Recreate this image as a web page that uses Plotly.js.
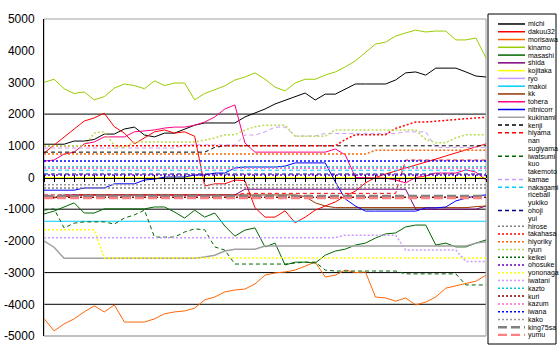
<!DOCTYPE html>
<html><head><meta charset="utf-8">
<script src="https://cdn.plot.ly/plotly-3.0.1.min.js"></script>
<style>html,body{margin:0;padding:0;background:#fff}</style>
</head><body><div id="chart" style="width:560px;height:350px"></div>
<script>
const rounds = [1,2,3,4,5,6,7,8,9,10,11,12,13,14,15,16,17,18,19,20,21,22,23,24,25,26,27,28,29,30,31,32,33,34,35,36,37,38,39,40,41,42,43,44,45];

const michi = [1050,1050,1050,1150,1150,1200,1370,1370,1530,1590,1340,1280,1400,1400,1530,1650,1720,1720,1720,1720,1910,2030,2160,2320,2440,2540,2665,2445,2630,2630,2790,2950,2950,2950,2950,3075,3300,3330,3230,3450,3450,3450,3330,3200,3170];
const dakuu32 = [770,1020,1280,1530,1780,1880,2030,1600,1400,1060,1250,1440,1500,1400,1440,1300,-270,-200,-200,-80,-100,-950,-1250,-1250,-1050,-1430,-1250,-1030,-900,-770,-580,-430,-170,0,110,200,300,390,490,580,680,770,870,960,1060];
const morisawa = [-4450,-4840,-4620,-4460,-4240,-4050,-4240,-4020,-4560,-4560,-4560,-4460,-4300,-4240,-4210,-4120,-3860,-3770,-3610,-3550,-3520,-3360,-3080,-3010,-2980,-2920,-2790,-2670,-3140,-3080,-2920,-3000,-2980,-3770,-3800,-3900,-3800,-4020,-3930,-3770,-3490,-3420,-3360,-3270,-3080];
const kinamo = [3000,3100,2800,2650,2700,2450,2550,2820,2950,2900,2800,3050,2900,2980,2980,2450,2650,2760,2890,3075,3170,3300,3100,2850,2730,2980,3100,3100,3230,3330,3490,3680,3930,4210,4270,4460,4560,4650,4590,4620,4620,4340,4340,4400,3770];
const masashi = [-1150,-1060,-930,-800,-1120,-1120,-990,-990,-990,-990,-990,-930,-930,-1090,-1280,-1030,-1250,-1120,-1530,-1850,-1660,-1590,-2190,-2070,-2760,-2670,-2670,-2700,-2450,-2320,-2260,-2130,-2070,-1910,-1780,-1750,-1560,-1500,-1500,-2130,-2070,-2190,-2190,-2070,-1970];
const shida = [-650,-650,-550,-550,-550,-550,-550,-550,-550,-550,-550,-550,-550,-550,-550,-550,-550,-550,-550,-550,-370,-370,-370,-370,-370,-370,-370,-370,-370,-370,-370,-370,-370,-370,-370,-370,-370,-1000,-1000,-1000,-1000,-1000,-1000,-1000,-900];
const kojitaka = [0,0,0,0,0,0,0,0,0,0,0,0,0,0,0,0,0,0,0,0,0,0,0,0,0,0,0,0,0,0,0,0,0,0,0,0,0,0,0,0,0,0,0,0,0];
const ryo = [];
const makoi = [-1380,-1380,-1380,-1380,-1380,-1380,-1380,-1380,-1380,-1380,-1380,-1380,-1380,-1380,-1380,-1380,-1380,-1380,-1380,-1380,-1380,-1380,-1380,-1380,-1380,-1380,-1380,-1380,-1380,-1380,-1380,-1380,-1380,-1380,-1380,-1380,-1380,-1380,-1380,-1380,-1380,-1380,-1380,-1380,-1380];
const kk = [-620,-620,-620,-550,-550,-550,-550,-550,-550,-550,-550,-550,-550,-550,-550,-550,-550,-550,-550,-550,-550,-550,-550,-550,-550,-550,-600,-800,-900,-950,-950,-950,-950,-950,-950,-950,-950,-950,-950,-950,-950,-950,-950,-920,-900];
const tohera = [520,550,740,800,1060,1120,1280,1280,1280,1440,1470,1500,1560,1590,1590,1650,1750,1910,2160,2290,1090,800,800,800,800,800,800,800,800,900,710,0,0,-20,-20,-80,-170,0,50,140,140,140,240,170,-80];
const nitnicorr = [-400,-400,-400,-400,-330,-330,-330,-200,-200,-200,-80,-50,15,15,15,80,80,140,140,300,330,330,330,330,360,460,460,460,460,-140,-680,-900,-1060,-1060,-1060,-1060,-1060,-1060,-960,-960,-930,-740,-650,-580,-550];
const kukinami = [-2000,-2200,-2550,-2550,-2550,-2550,-2550,-2550,-2550,-2550,-2550,-2550,-2550,-2550,-2550,-2550,-2510,-2450,-2320,-2260,-2260,-2260,-2160,-2160,-2160,-2160,-2160,-2160,-2160,-2160,-2160,-2160,-2160,-2160,-2160,-2160,-2160,-2160,-2160,-2160,-2160,-2160,-2160,-2070,-2030];
const kenji = [800,800,800,800,800,800,800,800,800,800,800,800,800,800,800,800,800,950,1000,1000,1000,1000,1000,1000,1000,1000,1000,1000,1000,1000,1000,1000,1000,1000,1000,1000,1000,1000,1000,1000,1000,1000,1000,1000,1000];
const hiyama = [-550,-550,-550,-550,-550,-550,-550,-550,-550,-550,-550,-550,-550,-550,-550,-550,-550,-550,-550,-550,-500,-500,-500,-500,-500,-500,-500,-500,-500,-500,-500,-500,-500,-500,-500,-500,550,550,550,550,550,550,550,550,550];
const nan = [];
const sugiyama = [];
const iwatsumi = [-1030,-990,-1590,-1440,-1400,-1400,-1400,-1470,-1280,-1180,-1030,-1880,-1880,-1880,-1720,-1620,-1650,-2190,-2290,-2730,-2730,-2730,-2730,-2730,-2730,-2700,-2670,-2670,-2920,-2950,-2950,-2950,-2950,-2950,-2950,-2950,-3040,-3040,-3040,-3040,-3040,-3040,-3390,-3390,-3390];
const kuo = [];
const takemoto = [];
const kamae = [930,930,930,930,930,930,930,930,930,930,930,930,930,930,1030,1030,1030,1030,1030,1030,1340,1340,1440,1590,1590,1310,1310,1310,1390,1390,1390,1390,1390,1390,1390,1390,1440,1440,1440,950,950,950,950,950,950];
const nakagami = [230,230,230,230,230,230,230,230,230,230,230,230,230,230,230,230,230,230,230,230,230,230,230,230,230,230,230,230,230,230,230,230,230,230,230,230,230,230,230,230,230,230,230,230,230];
const riceball = [];
const yukiko = [];
const ohoji = [110,110,110,110,110,110,110,110,110,110,110,110,110,110,110,110,110,110,110,110,110,110,110,110,110,110,110,110,110,110,110,110,110,110,110,110,110,110,110,110,110,110,110,110,110];
const yui = [];
const hirose = [-330,-330,-330,-330,-330,-330,-330,-330,-330,-330,-330,-330,-330,-330,-330,-330,-330,-330,-330,-330,-330,-330,-330,-330,-330,-330,-330,-330,-330,-330,-330,-330,-330,-330,-330,-330,-330,-330,-330,-330,-330,-330,-330,-330,-330];
const takahasa = [1000,1000,1000,1000,1000,1000,1000,1000,1000,1000,1000,1000,1000,1000,1000,1000,1000,1000,1000,1000,1000,1000,1000,1000,1000,1000,1000,1000,1000,1000,1200,1350,1350,1350,1350,1550,1650,1750,1750,1780,1800,1820,1850,1880,1900];
const hiyoriky = [740,740,740,740,740,740,740,740,740,740,740,740,740,740,740,740,740,740,740,740,740,740,740,740,740,740,740,740,740,740,740,740,740,860,860,860,860,860,860,860,860,860,860,860,860];
const ryun = [1000,1000,1000,1000,1000,1400,1450,1000,950,1120,1120,1120,1120,1120,1120,1120,1180,1250,1350,1350,1500,1600,1650,1650,1650,1300,1300,1300,1300,1500,1500,1500,1500,1500,1500,1500,1500,1500,1200,1100,1100,1250,1350,1350,1350];
const keikei = [];
const ohosuke = [80,80,80,80,80,80,80,80,80,80,80,80,80,80,80,80,80,80,80,80,80,80,80,80,80,80,80,80,80,80,80,80,80,80,80,80,80,80,80,80,80,80,80,80,80];
const yononaga = [-1650,-1650,-1650,-1650,-1650,-1650,-2540,-2540,-2540,-2540,-2540,-2540,-2540,-2540,-2540,-2540,-2540,-2540,-2540,-2540,-2540,-2540,-2540,-2540,-2540,-2540,-2540,-2540,-2540,-2540,-2540,-2540,-2540,-2540,-2540,-2540,-2540,-2540,-2540,-2540,-2540,-2540,-2540,-2540,-2540];
const iwatani = [-1900,-1900,-1900,-1900,-1900,-1900,-1900,-1900,-1900,-1900,-1900,-1900,-1900,-1900,-1900,-1900,-1900,-1900,-1900,-1900,-1900,-1900,-1900,-1900,-1900,-1900,-1900,-1900,-1900,-1900,-1820,-1820,-1820,-1820,-1820,-1820,-2290,-2290,-2290,-2290,-2290,-2290,-2650,-2650,-2650];
const kazto = [330,330,330,330,330,330,330,330,330,330,330,330,330,330,330,330,330,330,330,330,330,330,330,330,330,330,330,330,330,330,330,330,330,330,330,330,330,330,330,330,330,330,330,330,330];
const kuri = [-620,-620,-620,-620,-620,-620,-620,-620,-620,-620,-620,-620,-620,-620,-620,-620,-620,-620,-620,-620,-620,-620,-620,-620,-620,-620,-620,-620,-620,-620,-620,-620,-620,-620,-620,-620,-620,-620,-620,-620,-620,-620,-620,-620,-620];
const kazum = [290,290,290,290,290,290,290,290,290,290,290,290,290,290,290,290,290,290,290,290,290,290,290,290,290,290,290,290,290,290,290,290,290,290,290,290,290,290,290,290,290,290,290,290,290];
const iwana = [520,520,520,520,520,520,520,520,520,520,520,520,520,520,520,520,520,520,520,520,520,520,520,520,520,520,520,520,520,520,520,520,520,520,520,520,520,520,520,520,520,520,520,520,520];
const kako = [-230,-230,-230,-230,-230,-230,-230,-230,-230,-230,-230,-230,-230,-230,-230,-230,-230,-230,-230,-230,-230,-230,-230,-230,-230,-230,-230,-230,-230,-230,-230,-230,-230,-230,-230,-230,-230,-230,-230,-230,-230,-230,-230,-230,-230];
const king75sa = [-580,-580,-580,-580,-580,-580,-580,-580,-580,-580,-580,-580,-580,-580,-580,-580,-580,-580,-580,-580,-580,-580,-580,-580,-580,-580,-580,-580,-580,-580,-580,-580,-580,-580,-580,-580,-580,-580,-580,-580,-580,-580,-580,-580,-580];
const yumu = [-650,-650,-650,-650,-650,-650,-650,-650,-650,-650,-650,-650,-650,-650,-650,-650,-650,-650,-650,-650,-650,-650,-650,-650,-650,-650,-650,-650,-650,-650,-650,-650,-650,-650,-650,-650,-650,-650,-650,-650,-650,-650,-650,-650,-650];

const seriesNames = ["michi","dakuu32","morisawa","kinamo","masashi","shida","kojitaka","ryo","makoi","kk","tohera","nitnicorr","kukinami","kenji","hiyama","nan","sugiyama","iwatsumi","kuo","takemoto","kamae","nakagami","riceball","yukiko","ohoji","yui","hirose","takahasa","hiyoriky","ryun","keikei","ohosuke","yononaga","iwatani","kazto","kuri","kazum","iwana","kako","king75sa","yumu"];
const seriesValues = [michi,dakuu32,morisawa,kinamo,masashi,shida,kojitaka,ryo,makoi,kk,tohera,nitnicorr,kukinami,kenji,hiyama,nan,sugiyama,iwatsumi,kuo,takemoto,kamae,nakagami,riceball,yukiko,ohoji,yui,hirose,takahasa,hiyoriky,ryun,keikei,ohosuke,yononaga,iwatani,kazto,kuri,kazum,iwana,kako,king75sa,yumu];

const yTickVals = [5000,4000,3000,2000,1000,0,-1000,-2000,-3000,-4000,-5000];
const yTickText = ["5000","4000","3000","2000","1000","0","-1000","-2000","-3000","-4000","-5000"];
const gridVals = [2000,-1000,-3000,-4000];

// styles
const SOLID='solid', DASH='4px,3px', DOT='2px,2px', LONG='9px,4px';
const styles = {
 michi:['#000000',SOLID,1], dakuu32:['#ff0000',SOLID,1], morisawa:['#ff6600',SOLID,1], kinamo:['#99cc00',SOLID,1],
 masashi:['#006600',SOLID,1], shida:['#800080',SOLID,1], kojitaka:['#ffff00',SOLID,1], ryo:['#cc99ff',SOLID,1],
 makoi:['#00ccff',SOLID,1], kk:['#993300',SOLID,1], tohera:['#ff0080',SOLID,1], nitnicorr:['#0000ff',SOLID,1],
 kukinami:['#a0a0a0',SOLID,1.5], kenji:['#000000',DASH,1], hiyama:['#ff0000',DASH,1], nan:['#ffffff',DASH,1],
 sugiyama:['#ffffff',DASH,1], iwatsumi:['#006600',DASH,1], kuo:['#ffffff',DASH,1], takemoto:['#ffffff',DASH,1],
 kamae:['#cc99ff',DASH,1], nakagami:['#00ccff',DASH,1], riceball:['#ffffff',DASH,1], yukiko:['#ffffff',DASH,1],
 ohoji:['#000080',DASH,1], yui:['#ffffff',DASH,1], hirose:['#808080',DOT,1.5], takahasa:['#ff0000',DOT,1.5],
 hiyoriky:['#ff6600',DOT,1.5], ryun:['#b8dc50',DOT,1.5], keikei:['#006600',DOT,1.5], ohosuke:['#6600cc',DOT,1.5],
 yononaga:['#ffff00',DOT,1.5], iwatani:['#cc99ff',DOT,1.5], kazto:['#00cccc',DOT,1.5], kuri:['#800000',DOT,1.5],
 kazum:['#ff66cc',DOT,1.5], iwana:['#0000ff',DOT,1.5], kako:['#999999',DOT,1.5], king75sa:['#808080',LONG,2.5],
 yumu:['#ff8080',LONG,2.5]
};

const traces = [];
seriesNames.forEach((nm,k)=>{
  const st = styles[nm];
  traces.push({type:'scatter', mode:'lines', name:nm, x:rounds.slice(0, seriesValues[k].length), y:seriesValues[k],
    xaxis:'x', yaxis:'y', showlegend:false, hoverinfo:'skip',
    line:{color:st[0], dash:st[1], width:st[2]}});
});
// legend samples
seriesNames.forEach((nm,k)=>{
  const st = styles[nm];
  traces.push({type:'scatter', mode:'lines', x:[0,1], y:[k,k], xaxis:'x3', yaxis:'y3', showlegend:false, hoverinfo:'skip',
    line:{color:st[0], dash:st[1], width:Math.max(st[2],1.5)}});
});
// carrier for upward ticks axis
traces.push({type:'scatter', mode:'lines', x:[rounds[0]], y:[null], xaxis:'x2', yaxis:'y', showlegend:false, hoverinfo:'skip'});

const W=560, H=350, ML=44, MR=4, MT=19, MB=14;
const PW = W-ML-MR, PH = H-MT-MB;
const plotRight = 486;
const xd = (plotRight-ML)/PW;

const shapes = gridVals.map(v=>({type:'line', xref:'paper', yref:'y', x0:0, x1:xd, y0:v, y1:v, line:{color:'#000000', width:1}, layer:'below'}));
shapes.push({type:'rect', xref:'paper', yref:'paper', x0:0, x1:xd, y0:0, y1:1, line:{color:'#a0a0a0', width:1}, layer:'below'});
shapes.push({type:'line', xref:'paper', yref:'paper', x0:0, x1:xd, y0:0, y1:0, line:{color:'#c0c0c0', width:2}, layer:'below'});
shapes.push({type:'rect', xref:'paper', yref:'paper', x0:(488-ML)/PW, x1:(556-ML)/PW, y0:(MT+PH-344)/PH, y1:(MT+PH-14)/PH, line:{color:'#000000', width:1}, layer:'below'});

const layout = {
  width:W, height:H, margin:{l:ML, r:MR, t:MT, b:MB, pad:0},
  paper_bgcolor:'#ffffff', plot_bgcolor:'rgba(0,0,0,0)', showlegend:false,
  font:{family:'Liberation Sans, Arial, sans-serif', color:'#000000'},
  xaxis:{domain:[0,xd], range:[rounds[0], rounds[rounds.length-1]], anchor:'free', position:0.5,
    showgrid:false, zeroline:false, showline:true, linecolor:'#000000', linewidth:1,
    ticks:'outside', ticklen:3, tickcolor:'#000000', dtick:1, tick0:1, showticklabels:false},
  xaxis2:{domain:[0,xd], overlaying:'x', range:[rounds[0], rounds[rounds.length-1]], anchor:'free', position:0.5, side:'top',
    showgrid:false, zeroline:false, showline:false, ticks:'outside', ticklen:3, tickcolor:'#000000', dtick:1, tick0:1, showticklabels:false},
  yaxis:{domain:[0,1], range:[-5000,5000], tickvals:yTickVals, ticktext:yTickText, showgrid:false, zeroline:false,
    showline:true, linecolor:'#000000', linewidth:1, ticks:'', tickfont:{size:12, family:'Liberation Sans, Arial, sans-serif'}, ticklabelstandoff:6},
  xaxis3:{domain:[(498-ML)/PW,(525-ML)/PW], range:[0,1], visible:false, anchor:'y3'},
  yaxis3:{domain:[0,1], anchor:'x3', side:'right', range:[40.13,-0.64], tickvals:seriesNames.map((n,k)=>k), ticktext:seriesNames,
    showgrid:false, zeroline:false, showline:false, ticks:'', tickfont:{size:7, family:'Liberation Sans, Arial, sans-serif'}, ticklabelstandoff:2},
  shapes:shapes
};
Plotly.newPlot('chart', traces, layout, {staticPlot:true, displayModeBar:false});
</script></body></html>
